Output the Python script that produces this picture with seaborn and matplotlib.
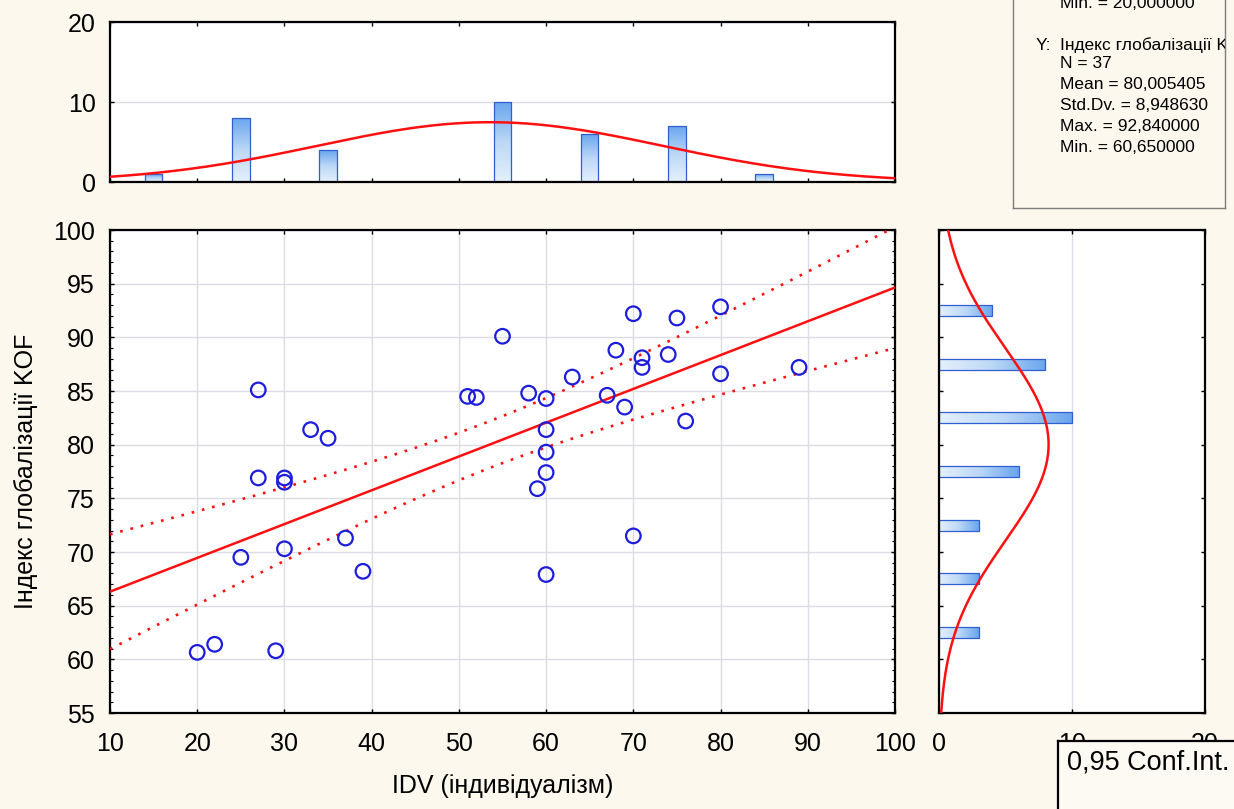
import numpy as np
import pandas as pd
import seaborn as sns
import matplotlib.pyplot as plt
from matplotlib.colors import LinearSegmentedColormap
from matplotlib.ticker import MultipleLocator

# дані: IDV (індивідуалізм) та індекс глобалізації KOF, 37 країн
idv = [20, 22, 29, 25, 30, 37, 39, 27, 27, 30, 30, 33, 35, 51, 52, 55, 58, 60, 60,
       60, 60, 59, 60, 63, 67, 68, 69, 70, 70, 71, 71, 74, 75, 76, 80, 80, 89]
kof = [60.65, 61.4, 60.8, 69.5, 70.3, 71.3, 68.2, 85.1, 76.9, 76.9, 76.5, 81.4, 80.6,
       84.5, 84.4, 90.1, 84.8, 84.3, 81.4, 79.3, 77.4, 75.9, 67.9, 86.3, 84.6, 88.8,
       83.5, 92.2, 71.5, 88.1, 87.2, 88.4, 91.8, 82.2, 92.84, 86.6, 87.2]

x_centers = [15, 25, 35, 45, 55, 65, 75, 85, 95]
x_counts = [1, 8, 4, 0, 10, 6, 7, 1, 0]
y_centers = [57.5, 62.5, 67.5, 72.5, 77.5, 82.5, 87.5, 92.5, 97.5]
y_counts = [0, 3, 3, 3, 6, 10, 8, 4, 0]

stats_x_tail = "Min. = 20,000000"
stats_y_title = "Індекс глобалізації KOF"
stats_y_lines = ["N = 37", "Mean = 80,005405", "Std.Dv. = 8,948630",
                 "Max. = 92,840000", "Min. = 60,650000"]

df = pd.DataFrame({"idv": idv, "kof": kof})

plt.rcParams['font.family'] = ['Liberation Sans', 'DejaVu Sans']
BG = "#fcf8ee"
RED = "#ff1010"
BLUE = "#1c1cdc"
GRID = "#dcdce4"

fig = plt.figure(figsize=(12.34, 8.09), dpi=100, facecolor=BG)
W, H = 1234, 809


def box(x0, y0, x1, y1):
    return [x0 / W, 1 - y1 / H, (x1 - x0) / W, (y1 - y0) / H]


ax = fig.add_axes(box(110, 230, 895, 713))
ax_top = fig.add_axes(box(110, 22, 895, 182))
ax_right = fig.add_axes(box(939, 230, 1205, 713))

bar_cmap = LinearSegmentedColormap.from_list("bars", ["#e4f0fc", "#bcd8f6", "#6aa6ee"])


def gradient_bars(a, horizontal):
    for p in list(a.patches):
        x0, y0 = p.get_x(), p.get_y()
        w, h = p.get_width(), p.get_height()
        if w == 0 or h == 0:
            p.set_visible(False)
            continue
        g = np.linspace(0, 1, 64)
        g = g.reshape(1, -1) if horizontal else g.reshape(-1, 1)
        im = a.imshow(g, extent=[x0, x0 + w, y0, y0 + h], origin="lower",
                      cmap=bar_cmap, aspect="auto", zorder=1.5)
        im.set_clip_path(p)
        p.set_facecolor("none")
        p.set_edgecolor("#2f5fd0")
        p.set_linewidth(0.9)
        p.set_zorder(1.6)


# ---- main scatter ----
ax.set_xlim(10, 100)
ax.set_ylim(55, 100)
sns.regplot(data=df, x="idv", y="kof", ax=ax, ci=None, truncate=False,
            scatter=False, line_kws=dict(color=RED, lw=1.8, zorder=3))
sns.scatterplot(data=df, x="idv", y="kof", ax=ax, s=110, marker="o",
                facecolors="none", edgecolor=BLUE, linewidth=1.6, zorder=4)

# 95% довірчий інтервал лінії регресії
xs = np.linspace(10, 100, 200)
xa, ya = np.array(idv, float), np.array(kof, float)
n = len(xa)
b, a0 = np.polyfit(xa, ya, 1)
resid = ya - (a0 + b * xa)
s = np.sqrt(np.sum(resid ** 2) / (n - 2))
sxx = np.sum((xa - xa.mean()) ** 2)
se = s * np.sqrt(1 / n + (xs - xa.mean()) ** 2 / sxx)
t = 2.0301
fit = a0 + b * xs
ax.plot(xs, fit + t * se, color=RED, lw=1.9, ls=(0, (1, 3.0)), zorder=3)
ax.plot(xs, fit - t * se, color=RED, lw=1.9, ls=(0, (1, 3.0)), zorder=3)

ax.set_xlim(10, 100)
ax.set_ylim(55, 100)
ax.xaxis.set_major_locator(MultipleLocator(10))
ax.yaxis.set_major_locator(MultipleLocator(5))
ax.yaxis.set_minor_locator(MultipleLocator(1))
ax.grid(True, which="major", color=GRID, lw=1.0, zorder=0)
ax.set_axisbelow(True)
ax.tick_params(which="major", direction="in", length=3, width=1, top=True, right=True,
               labelsize=18, colors="black")
ax.tick_params(axis="x", which="major", pad=14)
ax.tick_params(axis="y", which="major", pad=11)
ax.tick_params(which="minor", direction="in", length=2, width=0.8, left=True, right=True)
ax.set_xlabel("IDV (індивідуалізм)", fontsize=18, labelpad=13)
ax.set_ylabel("Індекс глобалізації KOF", fontsize=18, labelpad=11)

# ---- top histogram ----
sns.barplot(x=x_centers, y=x_counts, ax=ax_top, native_scale=True, width=0.2,
            color="#9cc4f2")
gradient_bars(ax_top, horizontal=False)
xx = np.linspace(10, 100, 300)
mx, sx = xa.mean(), xa.std(ddof=1)
ax_top.plot(xx, n * 10 * np.exp(-0.5 * ((xx - mx) / sx) ** 2) / (sx * np.sqrt(2 * np.pi)),
            color=RED, lw=1.8, zorder=3)
ax_top.set_xlim(10, 100)
ax_top.set_ylim(0, 20)
ax_top.xaxis.set_major_locator(MultipleLocator(10))
ax_top.set_yticks([0, 10, 20])
ax_top.yaxis.grid(True, color=GRID, lw=1.0)
ax_top.set_axisbelow(True)
ax_top.tick_params(direction="in", length=3, width=1, top=True, right=True,
                   labelbottom=False, labelsize=18, pad=10)
ax_top.set_xlabel("")
ax_top.set_ylabel("")

# ---- right histogram ----
sns.barplot(x=y_counts, y=y_centers, ax=ax_right, orient="h", native_scale=True,
            width=0.2, color="#9cc4f2")
gradient_bars(ax_right, horizontal=True)
yy = np.linspace(55, 100, 300)
my, sy = ya.mean(), ya.std(ddof=1)
ax_right.plot(n * 5 * np.exp(-0.5 * ((yy - my) / sy) ** 2) / (sy * np.sqrt(2 * np.pi)), yy,
              color=RED, lw=1.8, zorder=3)
ax_right.set_xlim(0, 20)
ax_right.set_ylim(55, 100)
ax_right.set_xticks([0, 10, 20])
ax_right.yaxis.set_major_locator(MultipleLocator(5))
ax_right.xaxis.grid(True, color=GRID, lw=1.0)
ax_right.set_axisbelow(True)
ax_right.tick_params(direction="in", length=3, width=1, top=True, right=True,
                     labelleft=False, labelsize=18, pad=14)
ax_right.set_xlabel("")
ax_right.set_ylabel("")

for a in (ax, ax_top, ax_right):
    a.set_facecolor("white")
    for sp in a.spines.values():
        sp.set_color("black")
        sp.set_linewidth(1.6)

# ---- stats box ----
ax_st = fig.add_axes(box(1013, -200, 1225, 208))
ax_st.set_xlim(0, 212)
ax_st.set_ylim(408, 0)
ax_st.set_facecolor(BG)
ax_st.set_xticks([])
ax_st.set_yticks([])
for sp in ax_st.spines.values():
    sp.set_color("#7c7c7c")
    sp.set_linewidth(1.0)
ax_st.text(47, 203, stats_x_tail, fontsize=12.5, va="center", clip_on=True)
ax_st.text(23, 245, "Y:", fontsize=12.5, va="center", clip_on=True)
ax_st.text(47, 245, stats_y_title, fontsize=12.5, va="center", clip_on=True)
for i, line in enumerate(stats_y_lines):
    ax_st.text(47, 264 + i * 20.8, line, fontsize=12.5, va="center", clip_on=True)

# ---- legend box ----
ax_lg = fig.add_axes(box(1058, 741, 1250, 830))
ax_lg.set_xlim(0, 89)
ax_lg.set_ylim(89, 0)
ax_lg.set_facecolor("#fdfaf3")
ax_lg.set_xticks([])
ax_lg.set_yticks([])
for sp in ax_lg.spines.values():
    sp.set_color("black")
    sp.set_linewidth(1.6)
ax_lg.text(4, 22, "0,95 Conf.Int.", fontsize=19.5, va="center", clip_on=True,
           transform=ax_lg.transData)

fig.savefig("out.png", dpi=100, facecolor=BG)
